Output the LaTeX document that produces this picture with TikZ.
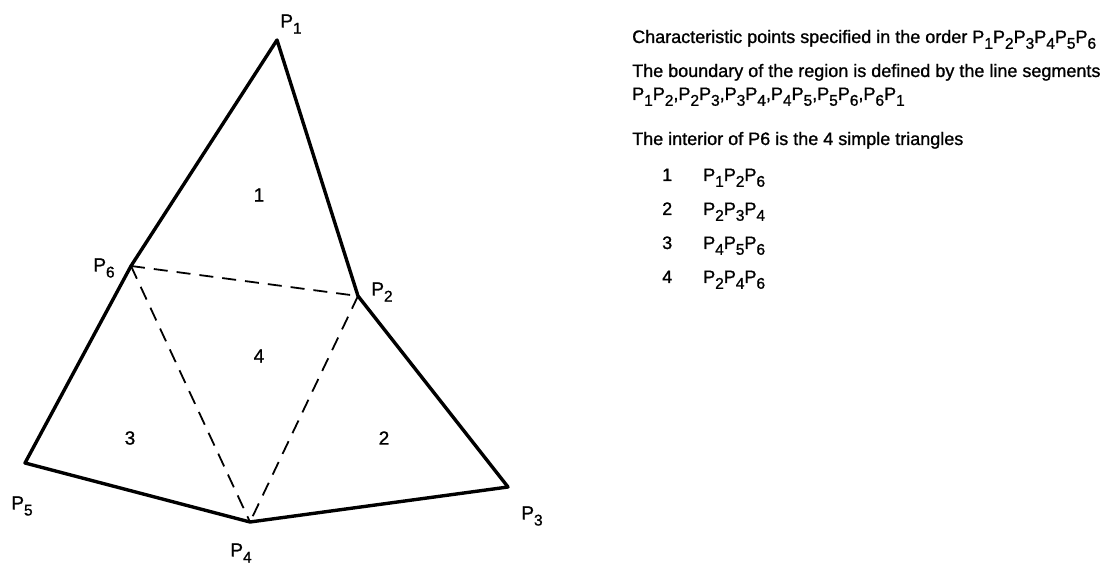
\documentclass[tikz,border=0pt]{standalone}
\usepackage{fontspec}
\setmainfont{Liberation Sans}[FakeBold=1.1]
\usepackage{tikz}
\usetikzlibrary{calc}
\newcommand{\lowsub}[1]{\raisebox{-0.32em}{\fontsize{15.5}{15.5}\selectfont #1}}
\newcommand{\Pp}[1]{P\lowsub{#1}}
\tikzset{
  edge/.style={line width=3.4pt,line join=round},
  inner/.style={line width=1.8pt,dash pattern=on 14pt off 9pt},
  lbl/.style={font=\fontsize{19}{19}\selectfont,inner sep=0pt},
  txt/.style={font=\fontsize{18}{20}\selectfont,anchor=base west,inner sep=0pt,align=left}
}
\begin{document}
\begin{tikzpicture}[x=1pt,y=1pt]
        \useasboundingbox (0,0) rectangle (1110,586);
        \coordinate (p1) at (277, 546);
        \coordinate (p2) at (358, 290);
        \coordinate (p3) at (508, 99);
        \coordinate (p4) at (250, 64);
        \coordinate (p5) at (25, 123);
        \coordinate (p6) at (131, 320);
        \draw[edge](p1) -- (p2) -- (p3) -- (p4) -- (p5) -- (p6) -- cycle;
        \draw[inner](p6) -- (p2);
        \draw[inner](p6) -- (p4);
        \draw[inner](p2) -- (p4);
        \node[lbl] (l1) at (291, 562) {\Pp1};
        \node[lbl] (l2) at (382, 294) {\Pp2};
        \node[lbl] (l3) at (532, 70) {\Pp3};
        \node[lbl] (l4) at (241, 33) {\Pp4};
        \node[lbl] (l5) at (22, 80) {\Pp5};
        \node[lbl] (l6) at (104, 318) {\Pp6};
        \node[lbl] (r1) at (259, 391) {1};
        \node[lbl] (r4) at (259, 230) {4};
        \node[lbl] (r3) at (130, 148) {3};
        \node[lbl] (r2) at (384, 148) {2};
        
        \node[txt] (t1) at (632, 543) {Characteristic points specified in the order \Pp1\Pp2\Pp3\Pp4\Pp5\Pp6};
        \node[txt] (t2) at (632, 509) {The boundary of the region is defined by the line segments};
        \node[txt] (t3) at (632, 486) {\Pp1\Pp2,\Pp2\Pp3,\Pp3\Pp4,\Pp4\Pp5,\Pp5\Pp6,\Pp6\Pp1};
        \node[txt] (t4) at (632, 441) {The interior of P6 is the 4 simple triangles};
        \node[txt] (n1) at (662, 405) {1};
        \node[txt] (n2) at (662, 371) {2};
        \node[txt] (n3) at (662, 337) {3};
        \node[txt] (n4) at (662, 303) {4};
        \node[txt] (s1) at (703, 405) {\Pp1\Pp2\Pp6};
        \node[txt] (s2) at (703, 371) {\Pp2\Pp3\Pp4};
        \node[txt] (s3) at (703, 337) {\Pp4\Pp5\Pp6};
        \node[txt] (s4) at (703, 303) {\Pp2\Pp4\Pp6};
    \end{tikzpicture}
\end{document}
